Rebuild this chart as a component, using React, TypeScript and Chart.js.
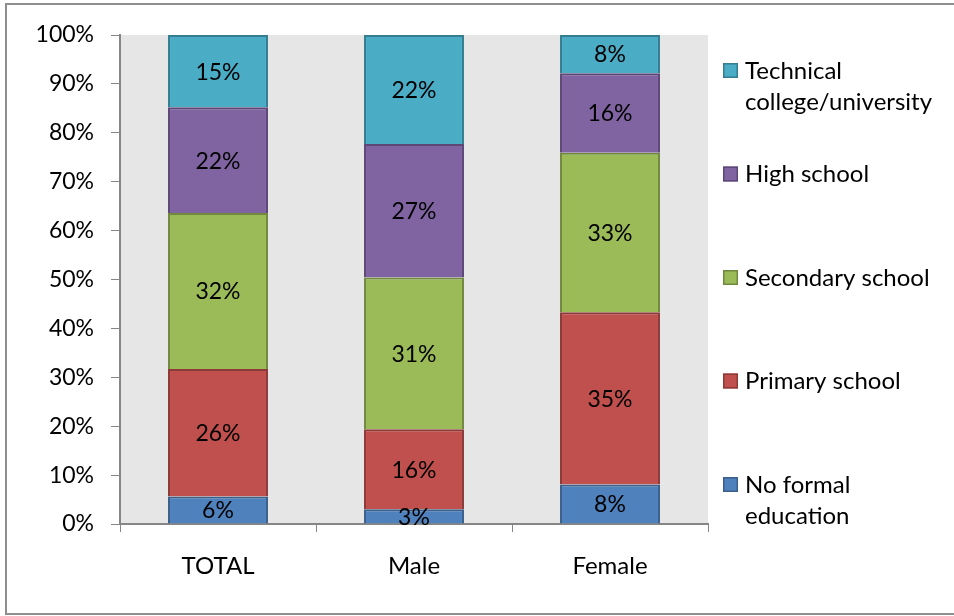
import React, { useEffect, useRef } from "react";
import { Chart, registerables } from "chart.js";

Chart.register(...registerables);

const CATEGORIES = ["TOTAL", "Male", "Female"];
const SERIES_NAMES = [
  "No formal\neducation",
  "Primary school",
  "Secondary school",
  "High school",
  "Technical\ncollege/university",
];
const NO_FORMAL = [5.6, 3.0, 8.1];
const PRIMARY = [26.1, 16.4, 35.2];
const SECONDARY = [31.9, 31.0, 32.6];
const HIGH = [21.6, 27.3, 16.3];
const TECHNICAL = [14.8, 22.3, 7.8];
const Y_TICKS = [0, 10, 20, 30, 40, 50, 60, 70, 80, 90, 100];

const FILLS = ["#4F81BD", "#C0504D", "#9BBB59", "#8064A2", "#4BACC6"];
const EDGES = ["#3A5F8B", "#8C3A38", "#71893F", "#5C4776", "#357D91"];
const FONT = "Lato, 'Open Sans', sans-serif";
const AXIS = "#868686";

const backgroundPlugin = {
  id: "bgFrame",
  beforeDraw(chart: any) {
    const { ctx, chartArea } = chart;
    ctx.save();
    ctx.fillStyle = "#ffffff";
    ctx.fillRect(0, 0, chart.width, chart.height);
    ctx.fillStyle = "#E6E6E6";
    ctx.fillRect(chartArea.left, chartArea.top, chartArea.right - chartArea.left, chartArea.bottom - chartArea.top);
    ctx.strokeStyle = "#8E8E8E";
    ctx.lineWidth = 2;
    ctx.beginPath();
    ctx.moveTo(chart.width + 5, 4);
    ctx.lineTo(6, 4);
    ctx.lineTo(6, 614);
    ctx.lineTo(chart.width + 5, 614);
    ctx.stroke();
    ctx.restore();
  },
};

const labelPlugin = {
  id: "segLabels",
  afterDatasetsDraw(chart: any) {
    const { ctx } = chart;
    ctx.save();
    ctx.font = `23px ${FONT}`;
    ctx.fillStyle = "#000";
    ctx.textAlign = "center";
    ctx.textBaseline = "middle";
    chart.data.datasets.forEach((ds: any, di: number) => {
      const meta = chart.getDatasetMeta(di);
      meta.data.forEach((el: any, i: number) => {
        const v = ds.data[i];
        const y = (el.y + el.base) / 2;
        ctx.fillText(Math.round(v) + "%", el.x, y + 1);
      });
    });
    ctx.restore();
  },
};

const legendPlugin = {
  id: "sideLegend",
  afterDraw(chart: any) {
    const { ctx } = chart;
    const ds = chart.data.datasets;
    const n = ds.length;
    const x0 = 723;
    const top = 70;
    const step = 103.5;
    const lineH = 31;
    ctx.save();
    ctx.font = `24px ${FONT}`;
    ctx.textBaseline = "middle";
    ctx.textAlign = "left";
    for (let k = 0; k < n; k++) {
      const d = ds[n - 1 - k];
      const y = top + step * k;
      ctx.fillStyle = d.backgroundColor;
      ctx.fillRect(x0, y - 7, 15, 15);
      ctx.strokeStyle = d.borderColor;
      ctx.lineWidth = 1.5;
      ctx.strokeRect(x0 + 0.75, y - 6.25, 13.5, 13.5);
      ctx.fillStyle = "#000";
      const lines = String(d.label).split("\n");
      lines.forEach((ln: string, j: number) => {
        ctx.fillText(ln, x0 + 22, y + j * lineH + 1);
      });
    }
    ctx.restore();
  },
};

export default function App() {
  const ref = useRef<HTMLCanvasElement | null>(null);
  useEffect(() => {
    if (!ref.current) return;
    const values = [NO_FORMAL, PRIMARY, SECONDARY, HIGH, TECHNICAL];
    const chart = new Chart(ref.current, {
      type: "bar",
      data: {
        labels: CATEGORIES,
        datasets: values.map((arr, i) => ({
          label: SERIES_NAMES[i],
          data: arr,
          backgroundColor: FILLS[i],
          borderColor: EDGES[i],
          borderWidth: 2,
          borderSkipped: "start" as const,
          categoryPercentage: 1,
          barPercentage: 0.51,
        })),
      },
      options: {
        responsive: false,
        animation: false,
        layout: { padding: { left: 0, top: 35, right: 246, bottom: 0 } },
        plugins: { legend: { display: false }, tooltip: { enabled: false } },
        scales: {
          x: {
            stacked: true,
            grid: { display: true, drawOnChartArea: false, drawTicks: true, tickLength: 8, color: AXIS, offset: true },
            border: { display: true, color: AXIS, width: 2 },
            ticks: { color: "#000", font: { family: FONT, size: 24 }, padding: 20 },
            afterFit(scale: any) {
              scale.height = 92;
            },
          },
          y: {
            stacked: true,
            min: 0,
            max: 100,
            afterBuildTicks(scale: any) {
              scale.ticks = Y_TICKS.map((v) => ({ value: v }));
            },
            grid: { display: true, drawOnChartArea: false, drawTicks: true, tickLength: 9, color: AXIS },
            border: { display: true, color: AXIS, width: 2 },
            ticks: {
              color: "#000",
              font: { family: FONT, size: 23 },
              padding: 17,
              callback: (v: any) => v + "%",
            },
            afterFit(scale: any) {
              scale.width = 120;
            },
          },
        },
      },
      plugins: [backgroundPlugin, labelPlugin, legendPlugin],
    });
    return () => chart.destroy();
  }, []);
  return (
    <div style={{ position: "absolute", left: 0, top: 0, width: 954, height: 616, background: "#fff" }}>
      <canvas ref={ref} width={954} height={616} />
    </div>
  );
}
